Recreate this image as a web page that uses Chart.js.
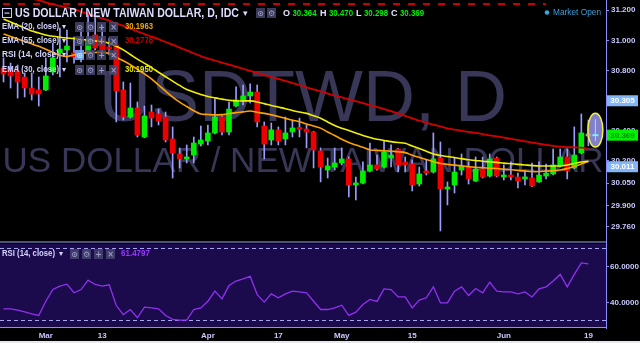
<!DOCTYPE html>
<html><head><meta charset="utf-8">
<script src="https://cdn.jsdelivr.net/npm/chart.js@4.4.1/dist/chart.umd.min.js"></script>
<style>html,body{margin:0;padding:0;background:#000;overflow:hidden}canvas{display:block}</style>
</head><body>
<canvas id="c" width="640" height="343"></canvas>
<script>
const dates = [
'2017-02-21','2017-02-22','2017-02-23','2017-02-24','2017-02-27','2017-02-28',
'2017-03-01','2017-03-02','2017-03-03','2017-03-06','2017-03-07','2017-03-08','2017-03-09','2017-03-10',
'2017-03-13','2017-03-14','2017-03-15','2017-03-16','2017-03-17','2017-03-20','2017-03-21','2017-03-22',
'2017-03-23','2017-03-24','2017-03-27','2017-03-28','2017-03-29','2017-03-30','2017-03-31',
'2017-04-03','2017-04-04','2017-04-05','2017-04-06','2017-04-07','2017-04-10','2017-04-11','2017-04-12',
'2017-04-13','2017-04-14','2017-04-17','2017-04-18','2017-04-19','2017-04-20','2017-04-21','2017-04-24',
'2017-04-25','2017-04-26','2017-04-27',
'2017-05-01','2017-05-02','2017-05-03','2017-05-04','2017-05-05','2017-05-08','2017-05-09','2017-05-10',
'2017-05-11','2017-05-12','2017-05-15','2017-05-16','2017-05-17','2017-05-18','2017-05-19','2017-05-22',
'2017-05-23','2017-05-24','2017-05-25','2017-05-26','2017-05-29','2017-05-30','2017-05-31',
'2017-06-01','2017-06-02','2017-06-05','2017-06-06','2017-06-07','2017-06-08','2017-06-09','2017-06-12',
'2017-06-13','2017-06-14','2017-06-15','2017-06-16','2017-06-19','2017-06-20','2017-06-21'];

const tickLabels = {'2017-03-01':'Mar','2017-03-13':'13','2017-04-03':'Apr','2017-04-17':'17',
  '2017-05-01':'May','2017-05-15':'15','2017-06-01':'Jun','2017-06-19':'19'};

const open = [30.816,30.803,30.796,30.756,30.683,30.670,30.670,30.789,30.916,30.936,
30.916,30.883,30.916,31.036,31.002,30.956,30.969,30.670,30.490,30.550,
30.357,30.523,30.510,30.490,30.344,30.244,30.211,30.237,30.310,30.330,
30.384,30.490,30.390,30.563,30.596,30.630,30.656,30.430,30.337,30.404,
30.344,30.390,30.417,30.410,30.390,30.264,30.137,30.157,30.184,30.211,
30.038,30.051,30.131,30.171,30.157,30.217,30.277,30.191,30.177,30.044,
30.131,30.124,30.217,30.011,30.038,30.137,30.157,30.064,30.144,30.097,
30.217,30.091,30.104,30.091,30.078,30.084,30.058,30.097,30.111,30.164,
30.224,30.151,30.251,30.364];
const high = [30.883,30.849,30.836,30.783,30.783,30.756,30.883,30.982,31.082,31.069,
31.022,31.069,31.182,31.182,31.102,31.016,31.002,30.723,30.716,30.590,
30.563,30.570,30.543,30.523,30.424,30.284,30.304,30.357,30.430,30.437,
30.610,30.497,30.590,30.690,30.703,30.710,30.703,30.457,30.450,30.424,
30.490,30.470,30.483,30.437,30.395,30.284,30.217,30.284,30.284,30.224,
30.091,30.191,30.317,30.237,30.330,30.304,30.282,30.224,30.204,30.157,
30.204,30.384,30.324,30.058,30.217,30.244,30.191,30.224,30.224,30.244,
30.224,30.171,30.191,30.117,30.137,30.184,30.191,30.177,30.277,30.277,
30.277,30.424,30.510,30.470];
const low = [30.723,30.683,30.616,30.623,30.603,30.563,30.665,30.770,30.756,30.856,
30.849,30.856,30.912,30.936,30.903,30.903,30.457,30.470,30.483,30.357,
30.352,30.424,30.437,30.324,30.084,30.151,30.184,30.184,30.297,30.304,
30.377,30.370,30.370,30.557,30.570,30.583,30.424,30.211,30.304,30.304,
30.304,30.357,30.357,30.284,30.151,30.058,30.084,30.137,30.171,29.958,
29.938,30.045,30.124,30.137,30.151,30.157,30.124,30.124,29.998,30.031,
30.104,30.117,29.732,29.905,29.984,30.104,30.044,30.060,30.084,30.091,
30.091,30.071,30.071,30.018,30.038,30.027,30.054,30.078,30.104,30.157,
30.078,30.145,30.245,30.298];
const close = [30.776,30.763,30.723,30.683,30.643,30.643,30.763,30.883,30.942,30.962,
30.889,30.903,31.009,30.949,30.936,30.942,30.663,30.490,30.550,30.370,
30.497,30.483,30.463,30.337,30.251,30.211,30.224,30.317,30.337,30.384,
30.490,30.390,30.543,30.603,30.630,30.656,30.457,30.310,30.404,30.330,
30.384,30.417,30.407,30.390,30.270,30.157,30.164,30.184,30.211,30.038,
30.051,30.131,30.171,30.144,30.257,30.237,30.171,30.171,30.038,30.111,
30.117,30.211,30.011,30.024,30.124,30.164,30.078,30.144,30.091,30.211,
30.097,30.097,30.091,30.064,30.091,30.031,30.104,30.117,30.171,30.224,
30.131,30.237,30.384,30.369];

const ema20 = [31.042,31.026,31.009,30.993,30.977,30.960,30.941,30.920,30.901,30.893,
30.903,30.913,30.917,30.919,30.921,30.912,30.887,30.864,30.838,30.807,
30.777,30.744,30.703,30.662,30.623,30.589,30.560,30.532,30.510,30.507,
30.504,30.506,30.513,30.519,30.524,30.530,30.522,30.514,30.504,30.493,
30.481,30.469,30.458,30.444,30.430,30.416,30.390,30.367,30.342,30.320,
30.304,30.288,30.271,30.268,30.265,30.262,30.259,30.253,30.236,30.221,
30.207,30.193,30.181,30.175,30.170,30.165,30.159,30.155,30.153,30.149,
30.147,30.143,30.139,30.135,30.131,30.127,30.127,30.130,30.133,30.137,
30.147,30.160,30.177,30.1963];
const ema55 = [31.328,31.315,31.302,31.292,31.278,31.267,31.253,31.241,31.229,31.219,
31.208,31.192,31.175,31.160,31.146,31.131,31.113,31.096,31.078,31.060,
31.042,31.025,31.008,30.989,30.971,30.952,30.933,30.914,30.895,30.879,
30.866,30.852,30.839,30.825,30.811,30.797,30.783,30.769,30.756,30.743,
30.730,30.716,30.703,30.687,30.674,30.660,30.646,30.633,30.620,30.608,
30.595,30.582,30.569,30.556,30.543,30.529,30.513,30.497,30.481,30.465,
30.452,30.439,30.427,30.415,30.406,30.398,30.391,30.384,30.376,30.368,
30.361,30.353,30.345,30.336,30.328,30.320,30.312,30.305,30.298,30.293,
30.290,30.288,30.286,30.2778];
const ema30 = [31.142,31.122,31.102,31.082,31.062,31.049,31.036,31.027,31.021,31.016,
31.012,31.006,31.002,30.996,30.992,30.980,30.960,30.937,30.906,30.875,
30.847,30.819,30.788,30.758,30.729,30.700,30.673,30.656,30.640,30.626,
30.617,30.609,30.601,30.597,30.597,30.597,30.590,30.579,30.567,30.556,
30.545,30.533,30.523,30.514,30.498,30.482,30.457,30.433,30.415,30.400,
30.384,30.367,30.353,30.342,30.334,30.326,30.320,30.315,30.297,30.280,
30.262,30.244,30.234,30.227,30.220,30.213,30.205,30.201,30.196,30.192,
30.188,30.183,30.179,30.175,30.171,30.167,30.164,30.164,30.164,30.164,
30.171,30.180,30.191,30.1950];
const rsi14 = [36.5,36.5,35.7,34.8,33.7,32.8,40.7,47.2,49.1,50.2,
45.4,47.2,52.4,50.0,49.1,49.8,38.3,33.3,36.1,31.5,
37.4,37.0,36.5,32.8,30.6,30.2,30.2,36.1,37.0,40.7,
46.3,42.0,49.4,51.9,53.1,54.6,44.4,40.2,44.8,42.6,
44.8,46.3,45.9,45.4,40.7,36.1,36.1,37.0,38.5,32.8,
34.6,38.9,41.7,40.6,47.6,47.2,43.1,43.1,37.0,41.3,
42.6,48.7,39.8,39.8,46.3,48.7,43.9,47.8,45.4,51.3,
46.3,45.9,45.9,44.8,45.9,43.1,47.6,48.7,51.9,55.6,
48.7,55.6,62.0,61.4797];

const priceTicks = [31.2, 31.0, 30.8, 30.4, 30.2, 30.05, 29.9, 29.76];
const rsiTicks = [60, 40];
const rsiBands = [70, 30];
const priceTags = [
  {text:'30.305', value:30.598, bg:'#82b6f6', fg:'#ffffff'},
  {text:'30.369', value:30.369, bg:'#00f000', fg:'#008a00'},
  {text:'30.011', value:30.159, bg:'#82b6f6', fg:'#ffffff'}
];
const drawnLine = {value:31.242, toIndex:77};
const ellipseMark = {index:83, top:30.515, bottom:30.29};

const SANS = '"Liberation Sans",Arial,sans-serif';
const AXIS = '#8c8cff';
const LABEL = '#c8c8ff';

// draw text, optionally squeezed horizontally to a target width
function txt(ctx, s, x, y, color, font, align, fitW){
  ctx.font = font; ctx.fillStyle = color; ctx.textBaseline = 'middle';
  const w = ctx.measureText(s).width;
  const sx = fitW ? fitW / w : 1;
  ctx.save(); ctx.translate(x, y); ctx.scale(sx, 1);
  ctx.textAlign = align || 'left'; ctx.fillText(s, 0, 0);
  ctx.restore();
  return w * sx;
}
function btn(ctx, x, y, glyph, hl){
  ctx.fillStyle = hl ? 'rgba(120,170,255,0.85)' : 'rgba(72,72,112,0.8)';
  ctx.fillRect(x, y - 5, 9, 10);
  txt(ctx, glyph, x + 4.5, y + 0.5, hl ? '#e0e0ff' : '#9a9ac8', 'bold 8px "DejaVu Sans"', 'center');
}
function legendRow(ctx, y, name, value, color, hl){
  txt(ctx, name, 2, y, '#d4d4ff', 'bold 9px ' + SANS, 'left', 57);
  txt(ctx, '\u25BE', 62, y, '#d4d4ff', '8px "DejaVu Sans"');
  btn(ctx, 75, y, '\u2299', hl); btn(ctx, 86, y, '\u2699'); btn(ctx, 97, y, '+'); btn(ctx, 109, y, '\u00D7');
  if (value) txt(ctx, value, 125, y, color, 'bold 9px ' + SANS, 'left', 28);
}

const panes = {
  id: 'panes',
  beforeDraw(chart){
    const {ctx, chartArea:a, scales} = chart;
    const y2 = scales.y2;
    ctx.save();
    ctx.fillStyle = '#000'; ctx.fillRect(0, 0, chart.width, chart.height);
    const top = y2.getPixelForValue(72.5);
    ctx.fillStyle = '#1c0b4c'; ctx.fillRect(a.left, top, a.right - a.left, a.bottom - top);
    ctx.fillStyle = '#50507c'; ctx.fillRect(a.left, top - 3, a.right - a.left, 2);
    ctx.fillStyle = AXIS; ctx.fillRect(a.left, a.bottom - 1, a.right - a.left, 1);
    ctx.restore();
  },
  beforeDatasetsDraw(chart){
    const {ctx, chartArea:a, scales} = chart;
    const y2 = scales.y2, y = scales.y, x = scales.x;
    const paneBottom = y2.getPixelForValue(73.8);
    ctx.save();
    ctx.beginPath(); ctx.rect(a.left, a.top, a.right - a.left, paneBottom - a.top); ctx.clip();
    ctx.fillStyle = '#383757'; ctx.textAlign = 'center'; ctx.textBaseline = 'alphabetic';
    const cx = (a.left + a.right) / 2;
    ctx.font = '72px ' + SANS; ctx.fillText('USDTWD, D', cx, 121);
    ctx.font = '35px ' + SANS; ctx.fillText('US DOLLAR / NEW TAIWAN DOLLAR', cx, 172);
    ctx.restore();
    ctx.save();
    ctx.strokeStyle = '#cc0000'; ctx.lineWidth = 2; ctx.setLineDash([7, 8]);
    const ly = y.getPixelForValue(drawnLine.value);
    ctx.beginPath(); ctx.moveTo(a.left + 3, ly); ctx.lineTo(x.getPixelForValue(drawnLine.toIndex), ly); ctx.stroke();
    ctx.strokeStyle = '#a6a6f0'; ctx.lineWidth = 1; ctx.setLineDash([4, 3]);
    rsiBands.forEach(v => {
      const py = Math.round(y2.getPixelForValue(v)) + 0.5;
      ctx.beginPath(); ctx.moveTo(a.left, py); ctx.lineTo(a.right, py); ctx.stroke();
    });
    ctx.restore();
  },
  afterDatasetsDraw(chart){
    const {ctx, scales} = chart;
    const x = scales.x, y = scales.y;
    const cx = x.getPixelForValue(ellipseMark.index) + 7;
    const t = y.getPixelForValue(ellipseMark.top), b = y.getPixelForValue(ellipseMark.bottom);
    ctx.save();
    ctx.beginPath(); ctx.ellipse(cx, (t + b) / 2, 7.5, (b - t) / 2, 0, 0, Math.PI * 2);
    ctx.fillStyle = 'rgba(150,150,240,0.85)'; ctx.fill();
    ctx.strokeStyle = '#f4f040'; ctx.lineWidth = 1.5; ctx.stroke();
    const cy = y.getPixelForValue(close[close.length - 1]);
    ctx.fillStyle = '#ff8fb0'; ctx.fillRect(cx - 9, cy - 1, 4, 2);
    ctx.fillStyle = '#7ff0f0'; ctx.fillRect(cx - 3, cy - 1, 6, 2);
    ctx.fillStyle = '#c8c8ff'; ctx.fillRect(cx - 0.5, t + 6, 1, b - t - 12);
    ctx.restore();
  },
  afterDraw(chart){
    const {ctx, chartArea:a, scales} = chart;
    const y = scales.y, y2 = scales.y2;
    ctx.save();
    // RSI axis ticks and labels, placed by the RSI scale
    rsiTicks.forEach(v => {
      const py = Math.round(y2.getPixelForValue(v)) + 0.5;
      ctx.strokeStyle = AXIS; ctx.lineWidth = 1;
      ctx.beginPath(); ctx.moveTo(a.right, py); ctx.lineTo(a.right + 3, py); ctx.stroke();
      txt(ctx, v.toFixed(4), a.right + 4, py, LABEL, 'bold 8px ' + SANS, 'left', 29);
    });
    // title row
    ctx.strokeStyle = '#c8c8ff'; ctx.lineWidth = 1; ctx.strokeRect(2.5, 8.5, 9, 9);
    ctx.fillStyle = '#c8c8ff'; ctx.fillRect(4.5, 12.5, 5, 1.2);
    txt(ctx, 'US DOLLAR / NEW TAIWAN DOLLAR, D, IDC', 15, 13.5, '#dcdcff', 'bold 12px ' + SANS, 'left', 224);
    txt(ctx, '\u25BE', 243, 13.5, '#dcdcff', '9px "DejaVu Sans"');
    btn(ctx, 256, 13, '\u2299'); btn(ctx, 267, 13, '\u2699');
    const f = 'bold 9px ' + SANS;
    [['O','30.364',283],['H','30.470',320],['L','30.298',356],['C','30.369',391]].forEach(p => {
      const w = txt(ctx, p[0], p[2], 13.5, '#e4e4ff', f);
      txt(ctx, p[1], p[2] + w + 2.5, 13.5, '#00f000', f, 'left', 24);
    });
    ctx.beginPath(); ctx.arc(547, 12.5, 2.3, 0, Math.PI * 2); ctx.fillStyle = '#38a8e0'; ctx.fill();
    txt(ctx, 'Market Open', 553, 12.5, '#38a0d8', '9px ' + SANS, 'left', 48);
    // indicator legend rows
    legendRow(ctx, 27, 'EMA (20, close)', '30.1963', '#f0a800');
    legendRow(ctx, 41, 'EMA (55, close)', '30.2778', '#c80000');
    legendRow(ctx, 55, 'RSI (14, close)', null, null, true);
    legendRow(ctx, 70, 'EMA (30, close)', '30.1950', '#e8e800');
    // RSI pane legend
    const ry = y2.getPixelForValue(72.5) + 10;
    txt(ctx, 'RSI (14, close)', 2, ry, '#d4d4ff', 'bold 9px ' + SANS, 'left', 53);
    txt(ctx, '\u25BE', 59, ry, '#d4d4ff', '8px "DejaVu Sans"');
    btn(ctx, 70, ry, '\u2299'); btn(ctx, 82, ry, '\u2699'); btn(ctx, 94, ry, '+'); btn(ctx, 106, ry, '\u00D7');
    txt(ctx, '61.4797', 121, ry, '#9a36ff', 'bold 9px ' + SANS, 'left', 29);
    // price tags on the axis
    priceTags.forEach(p => {
      const py = y.getPixelForValue(p.value);
      ctx.fillStyle = p.bg; ctx.fillRect(a.right + 1, py - 5.5, 31, 11);
      txt(ctx, p.text, a.right + 16.5, py + 0.5, p.fg, 'bold 8px ' + SANS, 'center');
    });
    ctx.fillStyle = '#e6e6ee'; ctx.fillRect(0, chart.height - 2, chart.width, 2);
    ctx.restore();
  }
};

const bodyColors = open.map((o, i) => close[i] >= o ? '#00ee00' : '#ee0000');
const lineDs = (data, color, w) => ({type:'line', data, borderColor:color, borderWidth:w, pointRadius:0,
  tension:0.35, fill:false, yAxisID:'y', order:0});

new Chart(document.getElementById('c'), {
  type: 'bar',
  data: {
    labels: dates,
    datasets: [
      {type:'bar', data: low.map((l, i) => [l, high[i]]), backgroundColor:'#9c9cff', barThickness:1,
        grouped:false, minBarLength:1, yAxisID:'y', order:2},
      {type:'bar', data: open.map((o, i) => [o, close[i]]), backgroundColor: bodyColors, barThickness:5,
        grouped:false, minBarLength:2, borderSkipped:false, yAxisID:'y', order:1},
      lineDs(ema55, '#d40000', 1.8),
      lineDs(ema30, '#f2f000', 1.6),
      lineDs(ema20, '#ffa200', 1.6),
      {type:'line', data: rsi14, borderColor:'#9030f0', borderWidth:1.3, pointRadius:0, tension:0,
        fill:false, yAxisID:'y2', order:0}
    ]
  },
  options: {
    responsive:false, animation:false, events:[],
    layout:{padding:0},
    plugins:{legend:{display:false}, tooltip:{enabled:false}},
    scales: {
      x: {
        type:'category', offset:true,
        grid:{display:false, drawTicks:false}, border:{display:false},
        ticks:{autoSkip:false, maxRotation:0, minRotation:0, padding:3, color:LABEL,
          font:{family:SANS, size:8, weight:'bold'},
          callback:(v, i) => tickLabels[dates[i]] || ''},
        afterFit: s => { s.height = 15; s.paddingLeft = 0; s.paddingRight = 0; }
      },
      y: {
        position:'right', min:29.086, max:31.2685,
        afterBuildTicks: s => { s.ticks = priceTicks.map(v => ({value:v})); },
        afterFit: s => { s.width = 34; s.paddingTop = 0; s.paddingBottom = 0; },
        grid:{drawOnChartArea:false, drawTicks:true, tickLength:3, color:AXIS},
        border:{display:true, color:AXIS, width:1},
        ticks:{autoSkip:false, padding:2, color:LABEL, font:{family:SANS, size:8, weight:'bold'},
          callback: v => Number(v).toFixed(3)}
      },
      y2: {
        display:false, position:'right', min:25.83, max:208.06
      }
    }
  },
  plugins:[panes]
});
</script>
</body></html>
